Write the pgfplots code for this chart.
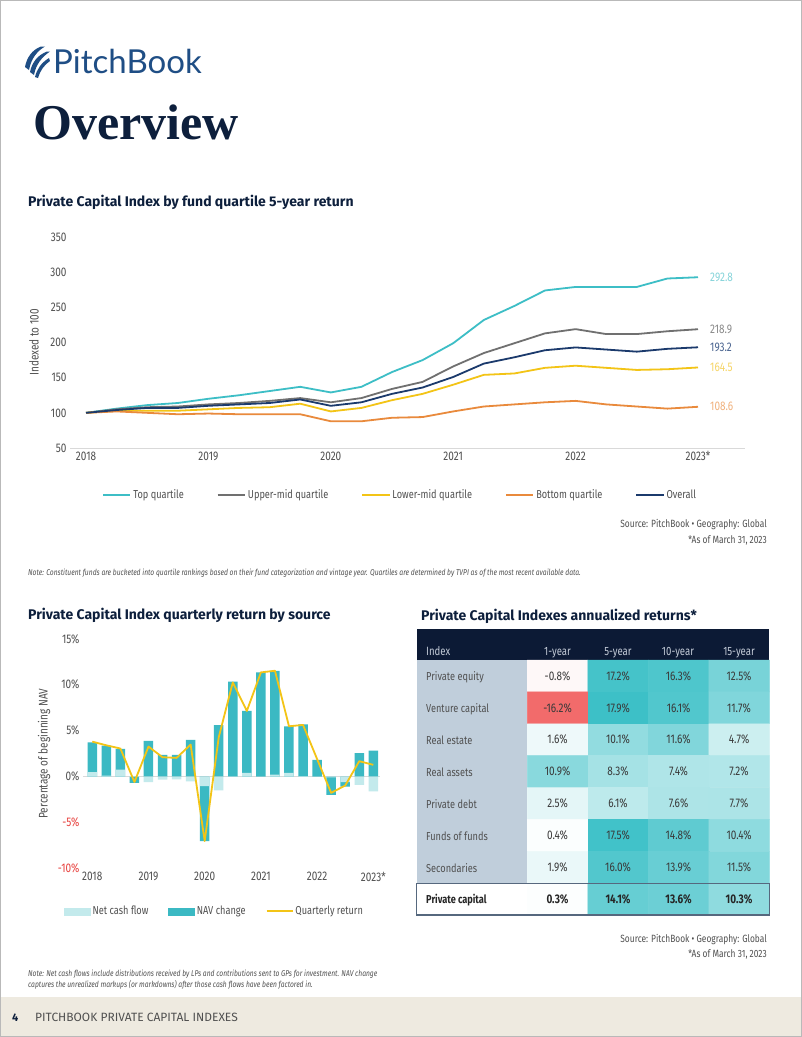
\documentclass[border=0pt]{standalone}
\usepackage{pgfplots}
\usepackage{pgfplotstable}
\pgfplotsset{compat=1.18}
\usepackage{fontspec}
\setmainfont{Fira Sans}
\newfontfamily\cf{Fira Sans}[FakeStretch=0.8]
\newfontfamily\ovf{Liberation Serif}
\newfontfamily\logof{Lato}
\definecolor{navy}{HTML}{0D1F3C}
\definecolor{tickgray}{HTML}{505050}
\definecolor{cteal}{HTML}{3DBEC6}
\definecolor{cgray}{HTML}{707070}
\definecolor{cyellow}{HTML}{F3C416}
\definecolor{corange}{HTML}{E98A3C}
\definecolor{cnavy}{HTML}{1B3A6C}
\definecolor{lteal}{HTML}{86D4DA}
\definecolor{lgray}{HTML}{8A8A8A}
\definecolor{lnavy}{HTML}{4A6490}
\definecolor{lyellow}{HTML}{F6D568}
\definecolor{lorange}{HTML}{F1B27E}
\definecolor{navbar}{HTML}{3BB9C3}
\definecolor{ncf}{HTML}{C3EAEC}
\definecolor{negred}{HTML}{E8413E}
\definecolor{hdr}{HTML}{0C1A35}
\definecolor{hdrtext}{HTML}{C4CCD8}
\definecolor{labcol}{HTML}{C0CEDB}
\definecolor{boxcol}{HTML}{56687E}
\definecolor{celltext}{HTML}{3A3A3A}
\definecolor{logoblue}{HTML}{1F4E85}
\definecolor{footbg}{HTML}{EEEAE0}
\definecolor{axgray}{HTML}{D9D9D9}

\newcommand\tf{\cf\fontsize{12.5}{14}\selectfont}
\newcommand\lf{\cf\fontsize{11.5}{13}\selectfont}

\pgfplotsset{
  ncfimg/.style={legend image code/.code={\fill[ncf] (0pt,-3.5pt) rectangle (26pt,3.5pt);}},
  navimg/.style={legend image code/.code={\fill[navbar] (0pt,-3.5pt) rectangle (26pt,3.5pt);}},
  retimg/.style={legend image code/.code={\draw[cyellow, line width=1.8pt] (0pt,0pt) -- (26pt,0pt);}},
  qline/.style={line width=1.8pt, line join=round},
}

\pgfplotstableread{
x top upper lower bottom overall
2018.00 100 100 100 100 100
2018.25 106 105 103 102 104
2018.50 111 108 103 100 107
2018.75 114 109 103 98 107
2019.00 120 112 105 99 110
2019.25 125 114 107 98 112
2019.50 131 117 108 98 114
2019.75 137 121 113 98 119
2020.00 129 115 102 88 110
2020.25 137 121 107 88 115
2020.50 158 134 118 93 127
2020.75 175 144 127 94 136
2021.00 199 166 140 102 151
2021.25 232 185 154 109 170
2021.50 252 199 156 112 179
2021.75 274 213 164 115 189
2022.00 279 219 167 117 193
2022.25 279 212 164 112 190
2022.50 279 212 161 109 187
2022.75 291 216 162 106 191
2023.00 292.8 218.9 164.5 108.6 193.2
}\quartiles

\pgfplotstableread{
x T L R
2018.00 3.73 0.47 3.80
2018.25 3.37 0.10 3.40
2018.50 3.00 0.76 3.05
2018.75 -0.69 -0.05 -0.60
2019.00 3.88 -0.62 3.26
2019.25 2.36 -0.33 2.10
2019.50 2.36 -0.30 2.03
2019.75 4.00 -0.54 3.48
2020.00 -7.03 -1.05 -7.03
2020.25 5.60 -1.52 4.28
2020.50 10.33 -0.05 10.25
2020.75 7.14 0.40 7.14
2021.00 11.34 0.00 11.34
2021.25 11.52 0.20 11.52
2021.50 5.47 0.40 5.47
2021.75 5.69 0.05 5.62
2022.00 1.81 0.00 1.90
2022.25 -2.00 -0.10 -1.78
2022.50 -1.09 -0.60 -0.98
2022.75 2.54 -0.90 1.67
2023.00 2.83 -1.63 1.27
}\sources

\pgfplotstableread{
x y v
0 0 -0.8
1 0 17.2
2 0 16.3
3 0 12.5
0 1 -16.2
1 1 17.9
2 1 16.1
3 1 11.7
0 2 1.6
1 2 10.1
2 2 11.6
3 2 4.7
0 3 10.9
1 3 8.3
2 3 7.4
3 3 7.2
0 4 2.5
1 4 6.1
2 4 7.6
3 4 7.7
0 5 0.4
1 5 17.5
2 5 14.8
3 5 10.4
0 6 1.9
1 6 16.0
2 6 13.9
3 6 11.5
0 7 0.3
1 7 14.1
2 7 13.6
3 7 10.3
}\heat

\begin{document}
\begin{tikzpicture}
\useasboundingbox (0,0) rectangle (802pt,-1037pt);
\fill[white] (0,0) rectangle (802pt,-1037pt);

% ---------- top chart ----------
\begin{axis}[
  at={(70pt,-448pt)}, anchor=south west,
  scale only axis, width=675pt, height=211pt,
  xmin=2017.869, xmax=2023.384, ymin=50, ymax=350,
  axis line style={draw=none}, tick style={draw=none},
  xtick={2018,2019,2020,2021,2022,2023},
  xticklabels={2018,2019,2020,2021,2022,2023*},
  ytick={50,100,150,200,250,300,350},
  ticklabel style={font=\tf, text=tickgray},
  /pgf/number format/assume math mode=true,
  ylabel={Indexed to 100},
  every axis y label/.style={at={(axis description cs:-0.0533,0.5)}, rotate=90, anchor=center, font=\tf, text=tickgray},
  clip=false,
  legend style={at={(axis description cs:0.489,-0.223)}, anchor=center, draw=none, fill=none,
    font=\lf, text=tickgray, legend columns=5,
    /tikz/every even column/.append style={column sep=31pt}},
  legend image post style={xscale=1.6},
]
\draw[axgray, line width=0.8pt] (rel axis cs:0,0) -- (rel axis cs:1,0);
\addplot[qline, cteal] table[x=x,y=top]{\quartiles}; \addlegendentry{Top quartile}
\addplot[qline, cgray] table[x=x,y=upper]{\quartiles}; \addlegendentry{Upper-mid quartile}
\addplot[qline, cyellow] table[x=x,y=lower]{\quartiles}; \addlegendentry{Lower-mid quartile}
\addplot[qline, corange] table[x=x,y=bottom]{\quartiles}; \addlegendentry{Bottom quartile}
\addplot[qline, cnavy] table[x=x,y=overall]{\quartiles}; \addlegendentry{Overall}
\begin{scope}[every node/.style={anchor=west, xshift=12pt, font=\tf, inner sep=0pt}]
\node[text=lteal] at (axis cs:2023,292.8) {292.8};
\node[text=lgray] at (axis cs:2023,218.9) {218.9};
\node[text=lnavy] at (axis cs:2023,193.2) {193.2};
\node[text=lyellow] at (axis cs:2023,164.5) {164.5};
\node[text=lorange] at (axis cs:2023,108.6) {108.6};
\end{scope}
\end{axis}

% ---------- bottom-left chart ----------
\begin{axis}[
  at={(83pt,-868.3pt)}, anchor=south west,
  scale only axis, width=297pt, height=229.5pt,
  xmin=2017.835, xmax=2023.119, ymin=-10, ymax=15,
  axis line style={draw=none}, tick style={draw=none},
  xtick={2018,2019,2020,2021,2022,2023},
  xticklabels={2018,2019,2020,2021,2022,2023*},
  ytick={-10,-5,0,5,10,15},
  yticklabels={\textcolor{negred}{-10\%},\textcolor{negred}{-5\%},0\%,5\%,10\%,15\%},
  ticklabel style={font=\tf, text=tickgray},
  ylabel={Percentage of beginning NAV},
  every axis y label/.style={at={(axis description cs:-0.131,0.5)}, rotate=90, anchor=center, font=\tf, text=tickgray},
  clip=false,
  legend style={at={(axis description cs:0.443,-0.187)}, anchor=center, draw=none, fill=none,
    font=\lf, text=tickgray, legend columns=3,
    /tikz/every even column/.append style={column sep=18pt}},
]
\draw[axgray, line width=0.8pt] (axis cs:2017.835,0) -- (axis cs:2023.119,0);
\addplot[ybar, bar width=9.5pt, bar shift=0pt, fill=navbar, draw=none, forget plot] table[x=x,y=T]{\sources};
\addplot[ybar, bar width=9.5pt, bar shift=0pt, fill=ncf, draw=none, forget plot] table[x=x,y=L]{\sources};
\addplot[qline, cyellow, forget plot] table[x=x,y=R]{\sources};
\addlegendimage{ncfimg}\addlegendentry{Net cash flow}
\addlegendimage{navimg}\addlegendentry{NAV change}
\addlegendimage{retimg}\addlegendentry{Quarterly return}
\end{axis}

% ---------- heatmap table ----------
\fill[hdr] (416.7pt,-629.3pt) rectangle (769.3pt,-660pt);
\fill[labcol] (416.7pt,-660pt) rectangle (527.3pt,-883.3pt);
\begin{axis}[
  at={(527.3pt,-915pt)}, anchor=south west,
  scale only axis, width=242pt, height=255pt,
  xmin=-0.5, xmax=3.5, ymin=-0.5, ymax=7.5, y dir=reverse,
  hide axis, clip=false,
  colormap={hm}{rgb255(0cm)=(242,107,107); rgb255(16.2cm)=(255,255,255); rgb255(34.2cm)=(60,192,199)},
  point meta min=-16.2, point meta max=18,
  /pgf/number format/assume math mode=true,
]
\addplot[matrix plot*, mesh/cols=4, point meta=explicit] table[x=x,y=y,meta=v]{\heat};
\addplot[draw=none, mark=none, point meta=\thisrow{v},
  y filter/.expression={y==7 ? nan : y},
  nodes near coords={\pgfmathprintnumber[fixed,fixed zerofill,precision=1]{\pgfplotspointmeta}\%},
  every node near coord/.style={anchor=center, font=\cf\fontsize{12.5}{14}\selectfont, text=celltext}]
  table[x=x,y=y]{\heat};
\addplot[draw=none, mark=none, point meta=\thisrow{v},
  y filter/.expression={y==7 ? y : nan},
  nodes near coords={\pgfmathprintnumber[fixed,fixed zerofill,precision=1]{\pgfplotspointmeta}\%},
  every node near coord/.style={anchor=center, font=\cf\bfseries\fontsize{12.5}{14}\selectfont, text=black!85}]
  table[x=x,y=y]{\heat};
\end{axis}

% ---------- page decorations (pixel coordinates, y downwards) ----------
\begin{scope}[x=1pt, y=-1pt, every node/.style={inner sep=0pt}]
% table header and labels
\node[anchor=base west, font=\cf\fontsize{12}{14}\selectfont, text=hdrtext] at (426,655) {Index};
\node[anchor=base, font=\cf\fontsize{12}{14}\selectfont, text=hdrtext] at (557.5,655) {1-year};
\node[anchor=base, font=\cf\fontsize{12}{14}\selectfont, text=hdrtext] at (618,655) {5-year};
\node[anchor=base, font=\cf\fontsize{12}{14}\selectfont, text=hdrtext] at (678,655) {10-year};
\node[anchor=base, font=\cf\fontsize{12}{14}\selectfont, text=hdrtext] at (739,655) {15-year};
\begin{scope}[every node/.style={inner sep=0pt, anchor=base west, font=\cf\fontsize{11.5}{13}\selectfont, text=tickgray}]
\node at (426,680) {Private equity};
\node at (426,712) {Venture capital};
\node at (426,744) {Real estate};
\node at (426,776) {Real assets};
\node at (426,808) {Private debt};
\node at (426,840) {Funds of funds};
\node at (426,872) {Secondaries};
\end{scope}
\node[anchor=base west, font=\cf\bfseries\fontsize{11.5}{13}\selectfont, text=black!85] at (426,903.5) {Private capital};
\draw[boxcol, line width=1.5pt] (416.7,883.3) rectangle (769.3,915);

% logo
\fill[logoblue] (25,67) .. controls (27,57) and (32,50) .. (41,46.5) -- (45,46.5) .. controls (37,51) and (31,59) .. (29,70) -- cycle;
\fill[logoblue] (30,72) .. controls (32,62) and (38,55) .. (47,51.5) -- (50,51.5) .. controls (42,57) and (36,64) .. (34,75) -- cycle;
\fill[logoblue] (35,77) .. controls (37,69) and (41,63) .. (49,58) -- (50,61) .. controls (44,65) and (40,71) .. (38,78) -- cycle;
\node[anchor=base west, font=\logof\fontsize{33}{36}\selectfont, text=logoblue] at (53,73) {PitchBook};
\node[anchor=base west, font=\ovf\bfseries\fontsize{50}{52}\selectfont, text=navy] at (33,139) {Overview};

% titles
\node[anchor=base west, font=\bfseries\fontsize{14}{16}\selectfont, text=navy] at (28,206) {Private Capital Index by fund quartile 5-year return};
\node[anchor=base west, font=\bfseries\fontsize{14}{16}\selectfont, text=navy] at (28,619) {Private Capital Index quarterly return by source};
\node[anchor=base west, font=\bfseries\fontsize{14}{16}\selectfont, text=navy] at (421,620) {Private Capital Indexes annualized returns*};

% sources and notes
\node[anchor=base east, font=\cf\fontsize{10.5}{12}\selectfont, text=tickgray] at (767,527) {Source: PitchBook • Geography: Global};
\node[anchor=base east, font=\cf\fontsize{10.5}{12}\selectfont, text=tickgray] at (767,543) {*As of March 31, 2023};
\node[anchor=base west, font=\cf\itshape\fontsize{8.4}{10}\selectfont, text=tickgray] at (28,575) {Note: Constituent funds are bucketed into quartile rankings based on their fund categorization and vintage year. Quartiles are determined by TVPI as of the most recent available data.};
\node[anchor=base east, font=\cf\fontsize{10.5}{12}\selectfont, text=tickgray] at (767,942) {Source: PitchBook • Geography: Global};
\node[anchor=base east, font=\cf\fontsize{10.5}{12}\selectfont, text=tickgray] at (767,957) {*As of March 31, 2023};
\node[anchor=base west, font=\cf\itshape\fontsize{8.4}{10}\selectfont, text=tickgray] at (28,976) {Note: Net cash flows include distributions received by LPs and contributions sent to GPs for investment. NAV change};
\node[anchor=base west, font=\cf\itshape\fontsize{8.4}{10}\selectfont, text=tickgray] at (28,987) {captures the unrealized markups (or markdowns) after those cash flows have been factored in.};

% footer
\fill[footbg] (1,997) rectangle (801,1036);
\node[anchor=base west, font=\bfseries\fontsize{11}{13}\selectfont, text=navy] at (12,1021) {4};
\node[anchor=base west, font=\fontsize{12}{14}\selectfont, text=tickgray] at (35,1021) {PITCHBOOK PRIVATE CAPITAL INDEXES};
\draw[gray!55, line width=1pt] (0.5,0.5) rectangle (801.5,1036.5);
\end{scope}
\end{tikzpicture}
\end{document}
